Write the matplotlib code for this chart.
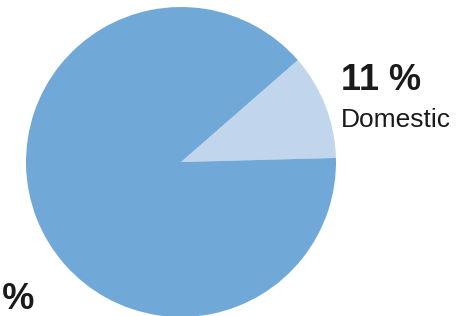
import matplotlib
matplotlib.use("Agg")
import matplotlib.pyplot as plt

labels = ["Domestic", ""]
shares = [11, 89]
share_labels = ["11 %", "89 %"]
colors = ["#c1d5ed", "#70a9d8"]

plt.rcParams['font.family'] = ['Liberation Sans', 'DejaVu Sans']

fig = plt.figure(figsize=(4.75, 3.16), dpi=100)
ax = fig.add_axes([0, 0, 1, 1])
ax.set_xlim(0, 475)
ax.set_ylim(0, 316)
ax.axis('off')

ax.pie(shares, colors=colors, startangle=1.5, counterclock=True,
       center=(181, 154), radius=155, frame=True,
       wedgeprops=dict(linewidth=0))
ax.set_xlim(0, 475)
ax.set_ylim(0, 316)
ax.set_aspect('equal')
ax.axis('off')

# small slice label
ax.text(341, 226, share_labels[0], fontsize=26, fontweight='bold',
        color='#1a1a1a', ha='left', va='baseline')
ax.text(341, 189, labels[0], fontsize=19, color='#1a1a1a',
        ha='left', va='baseline')
# big slice label, mostly cut off at the left edge
ax.text(34, 7, share_labels[1], fontsize=26, fontweight='bold',
        color='#1a1a1a', ha='right', va='baseline', clip_on=False)

fig.savefig("out.png", dpi=100)
